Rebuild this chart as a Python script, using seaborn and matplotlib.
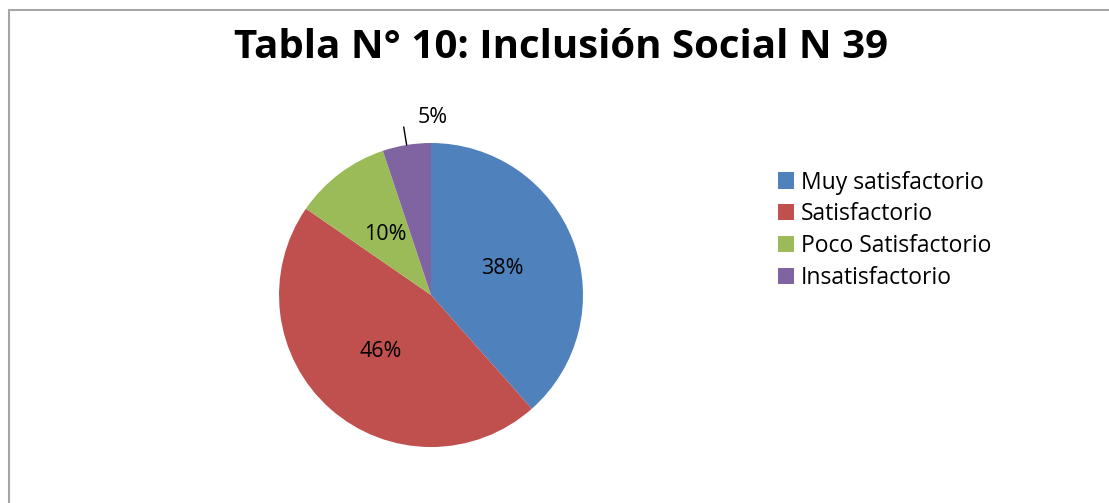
import numpy as np
import matplotlib
matplotlib.use("Agg")
import matplotlib.pyplot as plt
from matplotlib.lines import Line2D
import seaborn as sns

# data
categorias = ["Muy satisfactorio", "Satisfactorio", "Poco Satisfactorio", "Insatisfactorio"]
frecuencias = [15, 18, 4, 2]  # N = 39
colores = ["#4F81BD", "#C0504D", "#9BBB59", "#8064A2"]
titulo = "Tabla N° 10: Inclusión Social N 39"

sns.set_theme(style="white")
plt.rcParams['font.family'] = ['Open Sans', 'DejaVu Sans']

fig = plt.figure(figsize=(11.09, 5.03), dpi=100)
ax = fig.add_axes([0.2516, 0.1113, 0.2741, 0.6044])

wedges, textos, pcts = ax.pie(
    frecuencias,
    colors=sns.color_palette(colores),
    startangle=90,
    counterclock=False,
    autopct='%1.0f%%',
    pctdistance=0.5,
    wedgeprops={'linewidth': 0},
    textprops={'fontsize': 15.5, 'color': 'black'},
)
ax.set_xlim(-1, 1)
ax.set_ylim(-1, 1)
ax.set_aspect('auto')

# la etiqueta pequeña va fuera con línea guía
w = wedges[-1]
ang = np.deg2rad((w.theta1 + w.theta2) / 2)
pcts[-1].set_visible(False)
ax.plot([np.cos(ang), 1.12 * np.cos(ang)], [np.sin(ang), 1.12 * np.sin(ang)],
        color='black', lw=1, clip_on=False)
ax.text(1.12 * np.cos(ang) + 0.19, 1.17, pcts[-1].get_text(),
        ha='center', va='center', fontsize=15.5, color='black')

fig.suptitle(titulo, x=0.506, y=0.906, fontsize=29, fontweight='bold',
             va='center', color='black')

leg = fig.legend(wedges, categorias, loc='upper left',
                 bbox_to_anchor=(0.683, 0.702), frameon=False,
                 fontsize=16.5, handlelength=0.7, handleheight=0.7,
                 handletextpad=0.3, labelspacing=0.345)
for t in leg.get_texts():
    t.set_color('black')

# borde del gráfico
fig.add_artist(Line2D([8.5 / 1109, 1.0], [1 - 9.5 / 503, 1 - 9.5 / 503],
                      color='#a6a6a6', lw=1.5))
fig.add_artist(Line2D([8.5 / 1109, 8.5 / 1109], [0.0, 1 - 9.5 / 503],
                      color='#a6a6a6', lw=1.5))

fig.savefig("out.png", dpi=100)
